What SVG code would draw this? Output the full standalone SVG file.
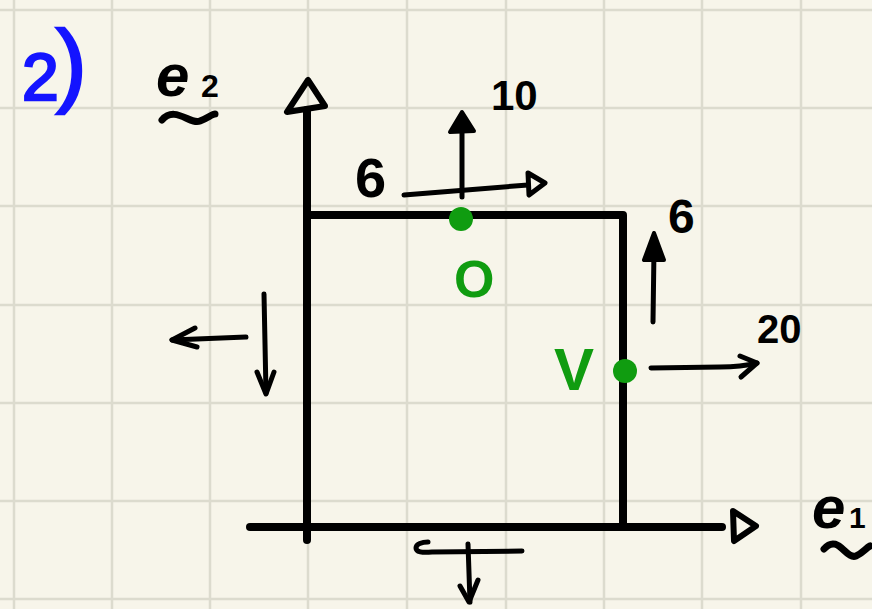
<svg xmlns="http://www.w3.org/2000/svg" width="872" height="609" viewBox="0 0 872 609">
<style>
.grid{stroke:#dcdbce;stroke-width:2.5}
.ink{stroke:#000;fill:none;stroke-linecap:round;stroke-linejoin:round}
.thick{stroke-width:8}
.thin{stroke-width:5}
.hw{font-family:"Liberation Sans","DejaVu Sans",sans-serif;font-weight:bold;fill:#000}
.green{fill:#109c10}
.gtxt{font-family:"Liberation Sans","DejaVu Sans",sans-serif;fill:#109c10}
.blue{font-family:"Liberation Sans","DejaVu Sans",sans-serif;fill:#1414ff;stroke:#1414ff;stroke-width:2.5}
</style>
<rect width="872" height="609" fill="#f7f5ea"/>
<g id="grid" class="grid">
<line x1="14" y1="0" x2="14" y2="609"/><line x1="112" y1="0" x2="112" y2="609"/><line x1="210" y1="0" x2="210" y2="609"/><line x1="308" y1="0" x2="308" y2="609"/><line x1="407" y1="0" x2="407" y2="609"/><line x1="506" y1="0" x2="506" y2="609"/><line x1="604" y1="0" x2="604" y2="609"/><line x1="702" y1="0" x2="702" y2="609"/><line x1="801" y1="0" x2="801" y2="609"/>
<line x1="0" y1="10" x2="872" y2="10"/><line x1="0" y1="108" x2="872" y2="108"/><line x1="0" y1="206" x2="872" y2="206"/><line x1="0" y1="305" x2="872" y2="305"/><line x1="0" y1="403" x2="872" y2="403"/><line x1="0" y1="501" x2="872" y2="501"/><line x1="0" y1="599" x2="872" y2="599"/>
</g>
<g id="title">
<text class="blue" x="22" y="100" font-size="66">2</text>
<text class="blue" x="56" y="95" font-size="92">)</text>
</g>
<g id="axes">
<line class="ink thick" x1="307" y1="540" x2="307" y2="110"/>
<path class="ink" stroke-width="6" d="M308 80 L287 112 L325 106 Z"/>
<line class="ink thick" x1="250" y1="527" x2="722" y2="527"/>
<path class="ink" stroke-width="6" d="M733 511 L756 526 L734 541 Z"/>
</g>
<g id="label-e2">
<text class="hw" x="156" y="96" font-size="60" font-style="italic">e</text>
<text class="hw" x="201" y="97" font-size="32">2</text>
<path class="ink" stroke-width="7" d="M162 120 C175 105,190 125,200 121 C208 118,212 114,215 114"/>
</g>
<g id="label-e1">
<text class="hw" x="812" y="528" font-size="60" font-style="italic">e</text>
<text class="hw" x="849" y="528" font-size="30">1</text>
<path class="ink" stroke-width="7" d="M824 549 C838 533,846 560,856 556 C863 553,866 548,870 546"/>
</g>
<g id="region">
<path class="ink thick" d="M307 215 L623 215 L623 527"/>
</g>
<g id="point-O">
<circle class="green" cx="461" cy="219" r="12"/>
<text class="gtxt" x="454" y="297" font-size="52" font-weight="bold">O</text>
</g>
<g id="point-V">
<circle class="green" cx="625" cy="371" r="12"/>
<text class="gtxt" x="554" y="390" font-size="60" font-weight="bold">V</text>
</g>
<g id="connectors">
<g id="arrows-O">
<line class="ink thin" x1="462" y1="197" x2="462" y2="125"/>
<path d="M462 112 L450 132 L474 131 Z" fill="#000" stroke="#000" stroke-width="4" stroke-linejoin="round"/>
<line class="ink thin" x1="404" y1="195" x2="528" y2="185"/>
<path class="ink thin" d="M528 173 L545 183 L529 195 Z"/>
</g>
<g id="arrows-V">
<line class="ink thin" x1="653" y1="322" x2="654" y2="250"/>
<path d="M654 233 L644 260 L664 260 Z" fill="#000" stroke="#000" stroke-width="4" stroke-linejoin="round"/>
<path class="ink thin" d="M651 368 L720 367 C735 367,745 366,757 363"/>
<path class="ink thin" d="M740 356 L757 363 L741 377"/>
</g>
<g id="arrows-left">
<line class="ink thin" x1="246" y1="337" x2="172" y2="340"/>
<path class="ink thin" d="M195 328 L172 340 L197 347"/>
<line class="ink thin" x1="264" y1="294" x2="266" y2="393"/>
<path class="ink thin" d="M257 372 L266 394 L274 372"/>
</g>
<g id="arrows-bottom">
<path class="ink thin" d="M522 551 L432 552 C422 553,416 552,416 548 C416 544,422 542,428 542"/>
<line class="ink thin" x1="468" y1="544" x2="470" y2="602"/>
<path class="ink thin" d="M460 586 L469 602 L478 580"/>
</g>
</g>
<g id="labels">
<text class="hw" x="355" y="197" font-size="56">6</text>
<text class="hw" x="491" y="110" font-size="42">10</text>
<text class="hw" x="668" y="233" font-size="48">6</text>
<text class="hw" x="757" y="343" font-size="40">20</text>
</g>
</svg>
